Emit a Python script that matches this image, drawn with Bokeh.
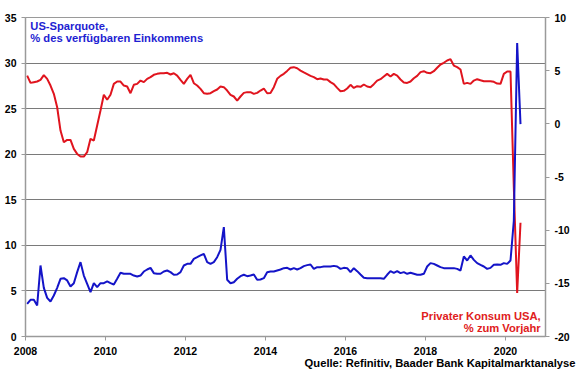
from bokeh.plotting import figure
from bokeh.models import Range1d, LinearAxis, FixedTicker, Label, Title
from bokeh.embed import file_html
from bokeh.resources import INLINE

# Monthly data, Jan 2008 - May 2020
start_year = 2008
savings_rate = [
    3.59, 4.02, 4.02, 3.40, 7.79, 5.34, 4.24, 3.84, 4.50, 5.34, 6.33, 6.40,   # 2008
    6.15, 5.49, 5.85, 7.06, 8.16, 6.69, 5.78, 4.87, 5.85, 5.41, 5.85, 5.85,   # 2009
    6.04, 5.85, 5.71, 6.33, 6.99, 6.88, 6.88, 6.88, 6.69, 6.58, 6.69, 7.13,   # 2010
    7.35, 7.53, 6.95, 6.88, 6.88, 7.13, 7.24, 7.06, 6.77, 6.80, 7.06, 7.79,   # 2011
    7.97, 7.97, 8.52, 8.70, 8.89, 9.07, 8.16, 7.97, 8.16, 8.70, 9.51, 12.0,   # 2012
    6.22, 5.85, 5.96, 6.33, 6.62, 6.77, 6.62, 6.69, 6.80, 6.22, 6.26, 6.40,   # 2013
    7.06, 7.13, 7.13, 7.24, 7.35, 7.50, 7.53, 7.35, 7.50, 7.35, 7.50, 7.72,   # 2014
    7.83, 7.90, 7.42, 7.61, 7.61, 7.68, 7.68, 7.68, 7.75, 7.68, 7.42, 7.53,   # 2015
    7.50, 7.06, 7.50, 7.17, 6.80, 6.44, 6.40, 6.40, 6.40, 6.40, 6.40, 6.33,   # 2016
    6.77, 7.17, 6.99, 7.17, 6.95, 7.06, 6.88, 6.99, 6.88, 6.77, 6.77, 6.88,   # 2017
    7.68, 8.05, 7.97, 7.79, 7.61, 7.50, 7.50, 7.50, 7.50, 7.42, 7.24, 8.78,   # 2018
    8.34, 8.89, 8.41, 8.05, 7.86, 7.68, 7.42, 7.53, 7.86, 7.90, 7.86, 8.05,   # 2019
    7.97, 8.34, 12.7, 32.2, 23.3,                                             # 2020
]
consumption_yoy = [
    4.54, 3.85, 3.92, 3.98, 4.14, 4.58, 4.23, 3.60, 2.82, 1.56, -0.63, -1.73,       # 2008
    -1.51, -1.51, -2.36, -2.83, -3.08, -3.08, -2.67, -1.41, -1.57, -0.16, 1.25, 2.73,  # 2009
    2.26, 2.73, 3.76, 3.98, 3.98, 3.60, 3.51, 2.88, 3.67, 3.76, 4.07, 3.92,         # 2010
    4.23, 4.39, 4.61, 4.70, 4.76, 4.76, 4.80, 4.64, 4.76, 4.54, 4.14, 3.76,         # 2011
    4.23, 4.61, 3.82, 3.60, 3.29, 2.88, 2.82, 2.88, 3.07, 3.23, 3.51, 3.45,         # 2012
    3.13, 2.73, 2.57, 2.19, 2.57, 2.91, 2.98, 2.98, 2.82, 2.91, 3.13, 3.32,         # 2013
    2.88, 2.91, 3.45, 4.23, 4.51, 4.70, 4.98, 5.27, 5.33, 5.23, 5.01, 4.83,         # 2014
    4.67, 4.51, 4.39, 4.20, 4.26, 4.17, 4.17, 3.92, 3.73, 3.38, 3.07, 3.10,         # 2015
    3.32, 3.67, 3.38, 3.54, 3.48, 3.70, 3.51, 3.45, 3.73, 4.07, 4.20, 4.45,         # 2016
    4.70, 4.45, 4.70, 4.54, 4.17, 3.89, 3.85, 3.98, 4.29, 4.51, 4.86, 4.95,         # 2017
    4.80, 4.76, 4.95, 5.27, 5.58, 5.74, 5.96, 6.08, 5.48, 5.33, 5.11, 3.76,         # 2018
    3.85, 3.76, 4.07, 4.20, 4.10, 4.01, 4.01, 4.01, 3.95, 3.79, 3.76, 4.70,         # 2019
    4.92, 4.92, -6.0, -15.9, -9.3,                                                  # 2020
]
dates = [start_year + (i + 0.5) / 12 for i in range(len(savings_rate))]

x_ticks = [2008, 2010, 2012, 2014, 2016, 2018, 2020]
left_ticks = [0, 5, 10, 15, 20, 25, 30, 35]
right_ticks = [-20, -15, -10, -5, 0, 5, 10]

title_left = "US-Sparquote,\n% des verfügbaren Einkommens"
title_right = "Privater Konsum USA,\n% zum Vorjahr"
source = "Quelle: Refinitiv, Baader Bank Kapitalmarktanalyse"

BLUE = "#1414c8"
RED = "#e0141e"
FONT = "Liberation Sans"
GREY = "#9a9a9a"

p = figure(width=580, height=375, output_backend="svg", toolbar_location=None,
           x_range=Range1d(2008, 2021), y_range=Range1d(0, 35),
           min_border_top=17, min_border_left=25, min_border_right=35, min_border_bottom=39)
p.extra_y_ranges = {"right": Range1d(-20, 10)}
p.background_fill_color = "white"
p.border_fill_color = "white"
p.outline_line_color = GREY
p.outline_line_width = 1

p.xgrid.visible = False
p.ygrid.grid_line_color = "#7a7a7a"
p.ygrid.grid_line_width = 1

p.xaxis.ticker = FixedTicker(ticks=x_ticks)
p.yaxis.ticker = FixedTicker(ticks=left_ticks)

raxis = LinearAxis(y_range_name="right", ticker=FixedTicker(ticks=right_ticks))
raxis.major_label_overrides = {t: str(t) for t in right_ticks}
p.add_layout(raxis, "right")

for ax in [p.xaxis[0], p.yaxis[0], raxis]:
    ax.axis_line_color = GREY
    ax.axis_line_width = 1.5
    ax.major_tick_line_color = GREY
    ax.major_tick_in = 0
    ax.major_tick_out = 4
    ax.minor_tick_line_color = None
    ax.major_label_text_font = FONT
    ax.major_label_text_font_style = "bold"
    ax.major_label_text_font_size = "10.5px"
    ax.major_label_text_color = "black"
    ax.major_label_standoff = 5
p.xaxis.major_label_standoff = 6

p.line(dates, consumption_yoy, y_range_name="right", line_color=RED, line_width=2)
p.line(dates, savings_rate, line_color=BLUE, line_width=2)

p.add_layout(Label(x=2008.12, y=34.7, text=title_left, text_font=FONT, text_font_style="bold",
                   text_font_size="11.2px", text_color="#1e1ed2", text_baseline="top",
                   text_align="left", text_line_height=1.0))
p.add_layout(Label(x=2020.88, y=-19.8, y_range_name="right", text=title_right, text_font=FONT,
                   text_font_style="bold", text_font_size="11.2px", text_color="#e02020",
                   text_baseline="bottom", text_align="right", text_line_height=1.05))

p.add_layout(Title(text=source, align="right", text_font=FONT, text_font_style="bold",
                   text_font_size="11.2px", text_color="black", standoff=-5, offset=-30), "below")

open("out.html", "w").write(file_html(p, INLINE))
